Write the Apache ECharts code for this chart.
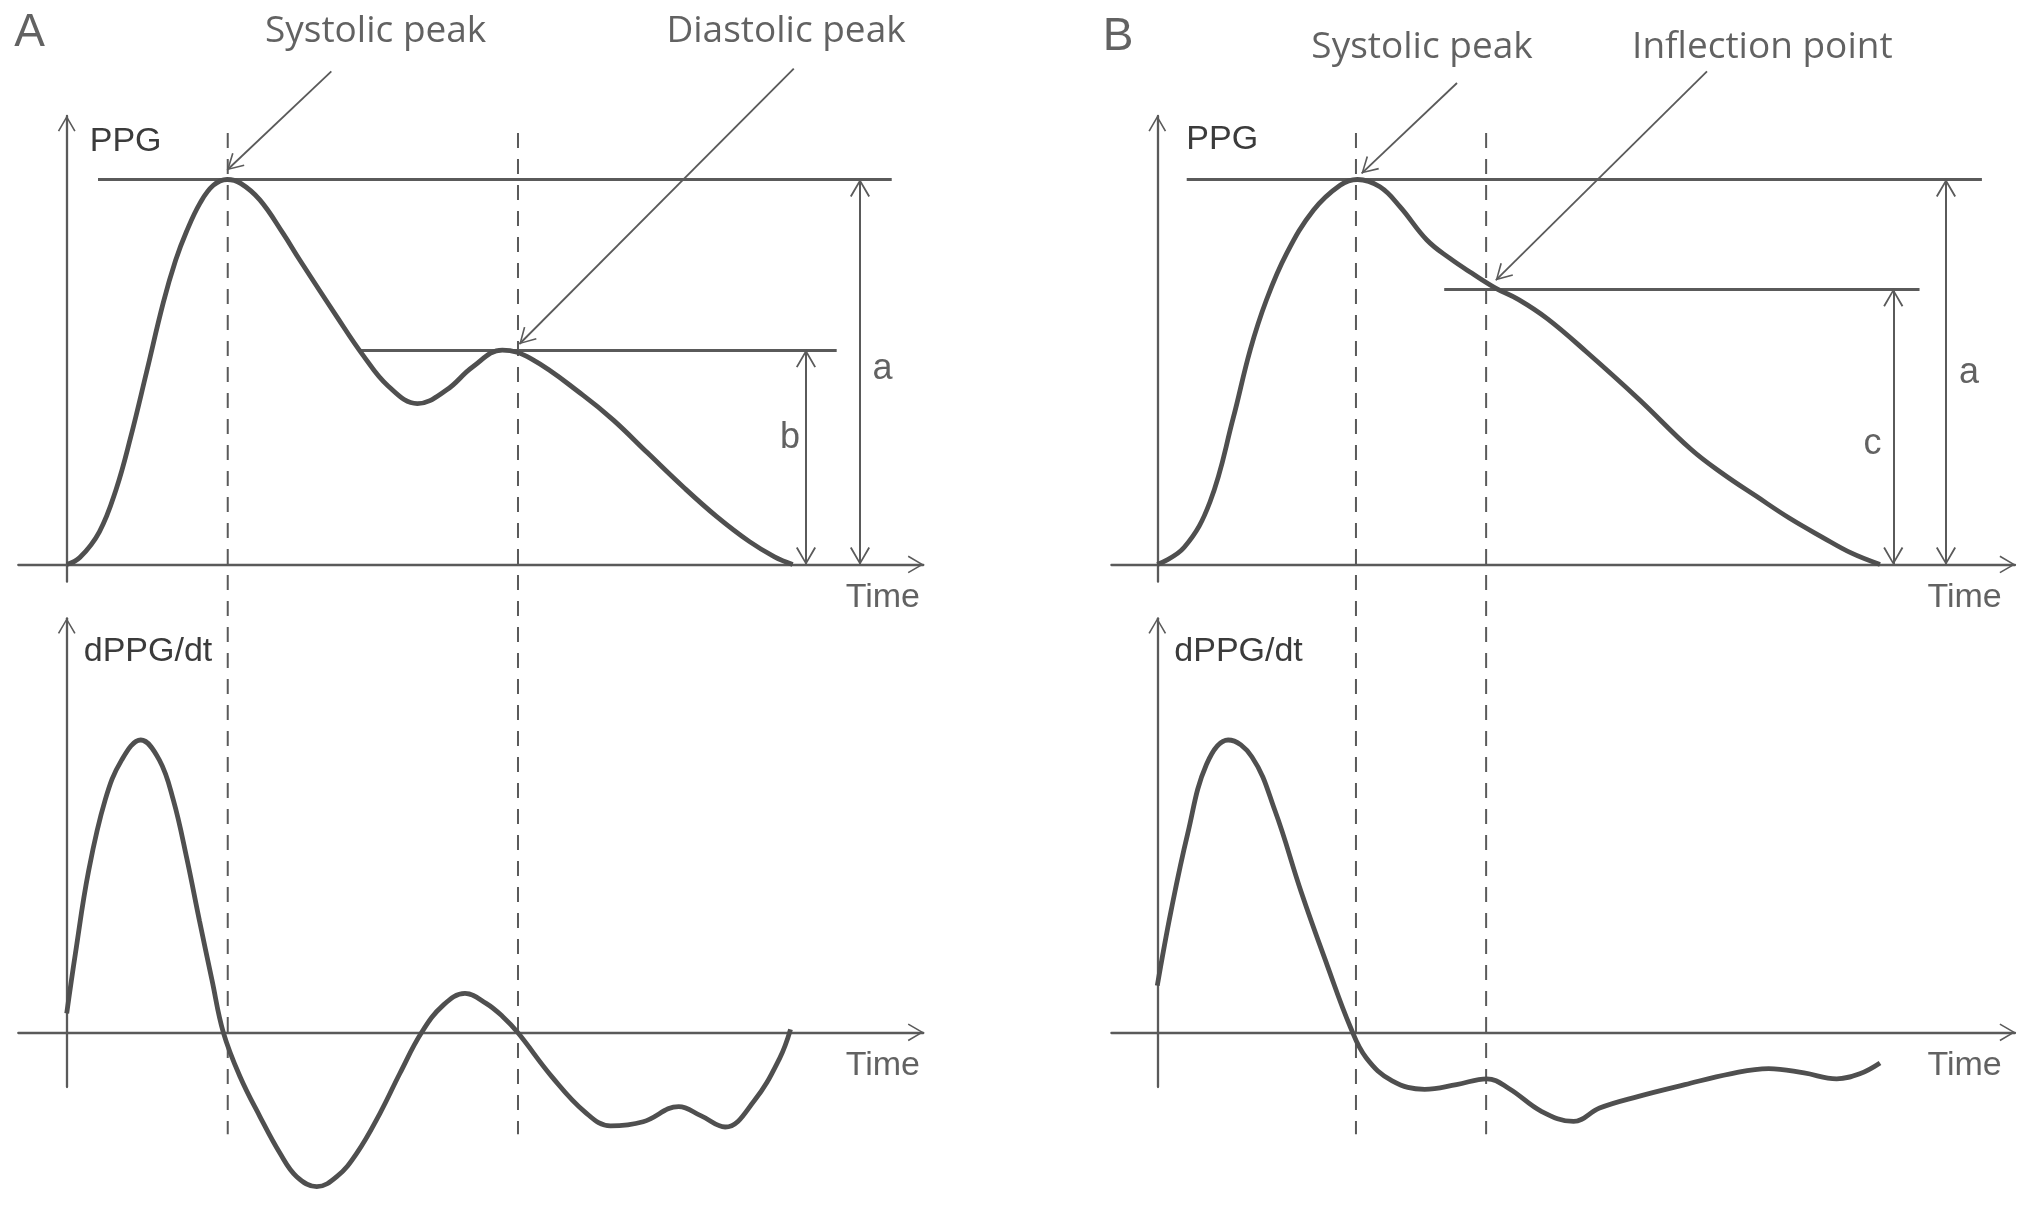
<!DOCTYPE html>
<html>
<head>
<meta charset="utf-8">
<title>PPG and dPPG/dt</title>
<script src="https://cdn.jsdelivr.net/npm/echarts@6.0.0/dist/echarts.min.js"></script>
<style>
html,body{margin:0;padding:0;background:#ffffff;}
#chart{width:2031px;height:1206px;}
</style>
</head>
<body>
<div id="chart"></div>
<script>
// ---------------- data (time normalised to one beat, amplitude to systolic peak) ----------------
const ppgA = [[0,0],[0.018,0.018],[0.045,0.085],[0.068,0.195],[0.088,0.33],[0.11,0.5],[0.133,0.68],[0.15,0.79],[0.165,0.865],[0.184,0.94],[0.202,0.985],[0.221,1.0],[0.2396,0.99],[0.266,0.947],[0.298,0.86],[0.321,0.791],[0.372,0.644],[0.408,0.544],[0.443,0.463],[0.483,0.418],[0.523,0.453],[0.559,0.513],[0.6,0.557],[0.64,0.534],[0.711,0.44],[0.753,0.375],[0.8,0.29],[0.85,0.2],[0.895,0.125],[0.94,0.06],[0.975,0.02],[1.0,0]];
const dppgA = [[0,0.065],[0.012,0.27],[0.03,0.55],[0.053,0.795],[0.0758,0.932],[0.102,1.0],[0.1275,0.932],[0.1468,0.795],[0.165,0.6],[0.183,0.38],[0.2,0.18],[0.2157,0],[0.2388,-0.152],[0.2663,-0.289],[0.2938,-0.414],[0.3168,-0.494],[0.3444,-0.528],[0.3719,-0.494],[0.3994,-0.414],[0.4315,-0.277],[0.459,-0.14],[0.489,0],[0.5187,0.093],[0.5486,0.133],[0.5777,0.099],[0.6,0.055],[0.621,0],[0.669,-0.154],[0.714,-0.273],[0.749,-0.32],[0.794,-0.306],[0.843,-0.254],[0.874,-0.286],[0.907,-0.324],[0.947,-0.234],[0.982,-0.089],[0.997,0.01]];
const ppgB = [[0,0],[0.037,0.044],[0.073,0.163],[0.105,0.38],[0.1285,0.557],[0.151,0.687],[0.179,0.808],[0.216,0.92],[0.253,0.985],[0.277,1.0],[0.308,0.981],[0.336,0.929],[0.373,0.843],[0.405,0.795],[0.435,0.757],[0.468,0.718],[0.5,0.688],[0.54,0.638],[0.594,0.552],[0.666,0.43],[0.738,0.3],[0.783,0.235],[0.829,0.177],[0.875,0.12],[0.921,0.07],[0.96,0.03],[1.0,0]];
const dppgB = [[0,0.16],[0.019,0.415],[0.042,0.679],[0.068,0.916],[0.098,1.0],[0.131,0.942],[0.163,0.757],[0.199,0.481],[0.235,0.23],[0.267,0.019],[0.289,-0.087],[0.325,-0.166],[0.37,-0.195],[0.414,-0.179],[0.456,-0.159],[0.487,-0.193],[0.532,-0.271],[0.576,-0.305],[0.612,-0.259],[0.666,-0.219],[0.73,-0.179],[0.793,-0.142],[0.846,-0.124],[0.895,-0.139],[0.94,-0.159],[0.972,-0.142],[1.0,-0.105]];

// characteristic points (time, amplitude)
const sysPeakA = [0.221, 1.0];
const diaPeakA = [0.6236, 0.557];
const sysPeakB = [0.277, 1.0];
const inflPointB = [0.4685, 0.715];
const markerTimesA = [0.2218, 0.6216];   // dashed vertical markers
const markerTimesB = [0.2749, 0.455];

// ---------------- styling helpers ----------------
const CHEV = 'path://M10,-17 M0,17 L10,0 L20,17 L18.4,17.9 L10,3.3 L1.6,17.9 Z';
const AX = '#5a5a5a';
const CURVE = '#4f4f4f';
const TXT = '#3b3b3b';
const SANS = 'Liberation Sans';

function xAx(gi, range, show) {
  return {
    type: 'value', gridIndex: gi, min: range[0], max: range[1], show: show,
    axisLine: {show: true, onZero: true, symbol: ['none', CHEV], symbolSize: [18, 31],
      lineStyle: {color: AX, width: 2.3}},
    axisTick: {show: false}, axisLabel: {show: false}, splitLine: {show: false}
  };
}
function yAx(gi, range, name, gap, padLeft, show) {
  return {
    type: 'value', gridIndex: gi, min: range[0], max: range[1], show: show,
    axisLine: {show: true, onZero: true, symbol: ['none', CHEV], symbolSize: [18, 31],
      lineStyle: {color: AX, width: 2.3}},
    axisTick: {show: false}, axisLabel: {show: false}, splitLine: {show: false},
    name: name, nameLocation: 'end', nameGap: gap,
    nameTextStyle: {fontFamily: SANS, fontSize: 34, color: TXT, align: 'left',
      verticalAlign: 'middle', padding: [0, 0, 0, padLeft]}
  };
}
function hLine(v, t0, t1) {
  return [{coord: [t0, v], symbol: 'none', lineStyle: {width: 2.8, color: AX, type: 'solid'}},
          {coord: [t1, v], symbol: 'none'}];
}
function dArrow(t, v0, v1) {
  return [{coord: [t, v0], symbol: CHEV, symbolSize: [20, 35], lineStyle: {width: 2, color: AX, type: 'solid'}},
          {coord: [t, v1], symbol: CHEV, symbolSize: [20, 35]}];
}
function pointer(from, to) {
  return [{coord: from, symbol: 'none', lineStyle: {width: 1.8, color: AX, type: 'solid'}},
          {coord: to, symbol: CHEV, symbolSize: [18, 32]}];
}
function curve(gi, data) {
  return {type: 'line', xAxisIndex: gi, yAxisIndex: gi, data: data, smooth: 0.4,
    symbol: 'none', clip: false, silent: true, z: 5,
    lineStyle: {color: CURVE, width: 4.8}};
}
function dashed(gi, t, span, extra) {
  const s = {type: 'line', xAxisIndex: gi, yAxisIndex: gi, data: [[t, span[0]], [t, span[1]]],
    symbol: 'none', silent: true, z: 2,
    lineStyle: {color: AX, width: 2, type: [15, 11]}};
  return Object.assign(s, extra || {});
}
function mk(lines) {
  return {markLine: {silent: true, animation: false, label: {show: false}, symbol: 'none',
    emphasis: {disabled: true}, data: lines}};
}
function texts(gi, items) {
  return {type: 'scatter', xAxisIndex: gi, yAxisIndex: gi, symbolSize: 1, silent: true, z: 10,
    itemStyle: {color: 'rgba(0,0,0,0)'},
    label: {show: true, position: 'inside', formatter: '{b}', color: TXT},
    data: items};
}
function lbl(name, t, v, font, size, align) {
  return {name: name, value: [t, v], label: {fontFamily: font, fontSize: size, align: align || 'center'}};
}

// ---------------- layout (axis ranges) ----------------
const xRangeA = [-0.0667, 1.1799];
const xRangeB = [-0.0635, 1.1868];
const yTop = [-0.0447, 1.165];
const yBot = [-0.1871, 1.4164];
const yOver = [-1.6662, 1.4662];
const dashSpan = [1.121, -1.48];

const option = {
  backgroundColor: '#ffffff',
  animation: false,
  grid: [
    {left: 18.3, width: 905, top: 116, height: 465.7, outerBoundsMode: 'none'},
    {left: 18.3, width: 905, top: 618.3, height: 468.7, outerBoundsMode: 'none'},
    {left: 1111.4, width: 903.6, top: 116, height: 465.7, outerBoundsMode: 'none'},
    {left: 1111.4, width: 903.6, top: 618.3, height: 468.7, outerBoundsMode: 'none'},
    {left: 18.3, width: 905, top: 0, height: 1206, outerBoundsMode: 'none'},
    {left: 1111.4, width: 903.6, top: 0, height: 1206, outerBoundsMode: 'none'}
  ],
  xAxis: [
    xAx(0, xRangeA, true),
    xAx(1, xRangeA, true),
    xAx(2, xRangeB, true),
    xAx(3, xRangeB, true),
    xAx(4, xRangeA, false),
    xAx(5, xRangeB, false)
  ],
  yAxis: [
    yAx(0, yTop, 'PPG', -26, 23, true),
    yAx(1, yBot, 'dPPG/dt', -33, 17, true),
    yAx(2, yTop, 'PPG', -24, 29, true),
    yAx(3, yBot, 'dPPG/dt', -33, 17, true),
    yAx(4, yOver, '', 0, 0, false),
    yAx(5, yOver, '', 0, 0, false)
  ],
  series: [
    Object.assign(curve(0, ppgA), mk([
      hLine(sysPeakA[1], 0.0431, 1.1364),
      hLine(diaPeakA[1], 0.403, 1.0606),
      dArrow(1.0183, 0, diaPeakA[1]),
      dArrow(1.0927, 0, sysPeakA[1])
    ])),
    curve(1, dppgA),
    Object.assign(curve(2, ppgB), mk([
      hLine(sysPeakB[1], 0.0407, 1.141),
      hLine(inflPointB[1], 0.397, 1.0547),
      dArrow(1.0184, 0, inflPointB[1]),
      dArrow(1.0913, 0, sysPeakB[1])
    ])),
    curve(3, dppgB),
    dashed(4, markerTimesA[0], dashSpan, mk([
      pointer([0.3645, 1.281], [sysPeakA[0], 1.0247]),
      pointer([1.0015, 1.2878], [diaPeakA[0], 0.5727])
    ])),
    dashed(4, markerTimesA[1], dashSpan),
    dashed(5, markerTimesB[0], dashSpan, mk([
      pointer([0.4147, 1.2506], [0.2828, 1.016]),
      pointer([0.7606, 1.281], [inflPointB[0], 0.7387])
    ])),
    dashed(5, markerTimesB[1], dashSpan),
    texts(4, [
      lbl('A', -0.0512, 1.379, SANS, 46),
      lbl('Systolic peak', 0.4255, 1.3857, 'Open Sans', 37),
      lbl('Diastolic peak', 0.9908, 1.3857, 'Open Sans', 37),
      lbl('a', 1.1238, 0.5078, SANS, 36),
      lbl('b', 0.9963, 0.3286, SANS, 36),
      lbl('Time', 1.1753, -0.087, SANS, 34, 'right'),
      lbl('Time', 1.1753, -1.3026, SANS, 34, 'right')
    ]),
    texts(5, [
      lbl('B', -0.0544, 1.369, SANS, 46),
      lbl('Systolic peak', 0.3663, 1.344, 'Open Sans', 37),
      lbl('Inflection point', 0.8372, 1.344, 'Open Sans', 37),
      lbl('a', 1.1231, 0.4974, SANS, 36),
      lbl('c', 0.9896, 0.3117, SANS, 36),
      lbl('Time', 1.1684, -0.087, SANS, 34, 'right'),
      lbl('Time', 1.1684, -1.3026, SANS, 34, 'right')
    ])
  ]
};

const chart = echarts.init(document.getElementById('chart'), null, {renderer: 'canvas'});
chart.setOption(option);
</script>
</body>
</html>
